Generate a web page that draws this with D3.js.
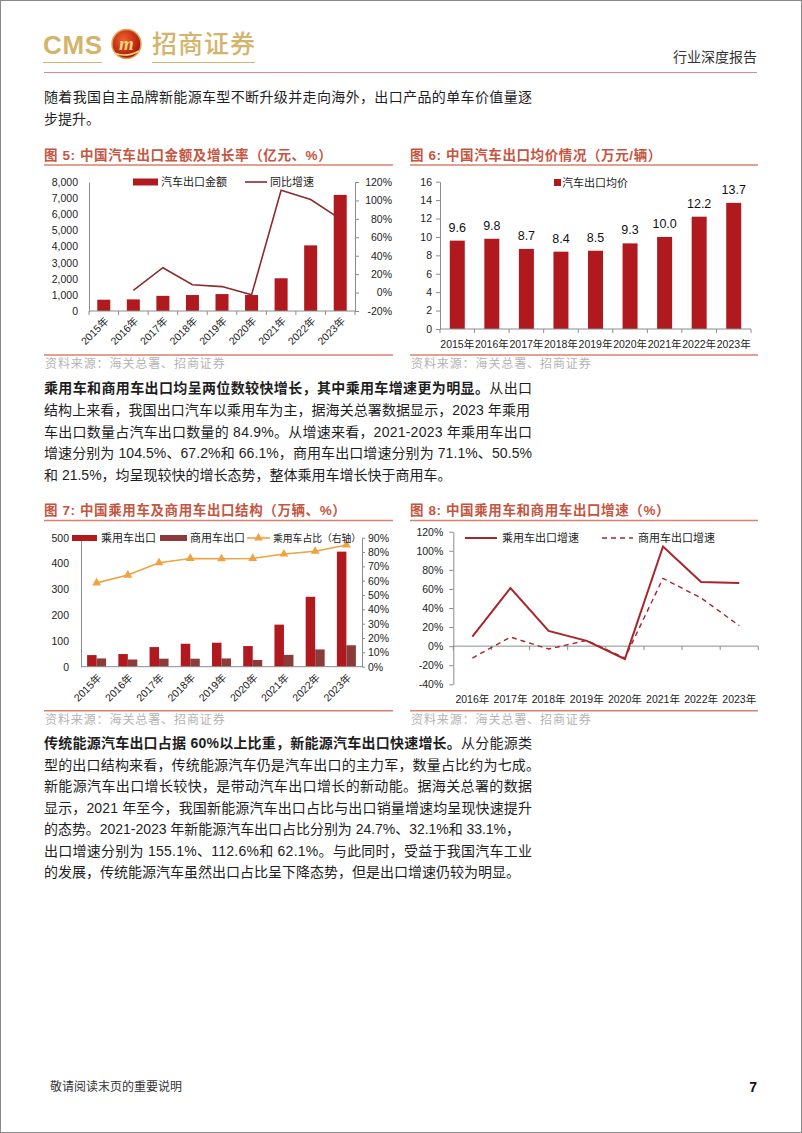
<!DOCTYPE html>
<html><head><meta charset="utf-8">
<script src="https://cdn.jsdelivr.net/npm/d3@7"></script>
<style>
html,body{margin:0;padding:0;background:#fff;}
svg{display:block;}
</style></head><body>
<svg id="page" width="802" height="1133"></svg>
<script>
// ---------------- data ----------------
const years = ["2015年","2016年","2017年","2018年","2019年","2020年","2021年","2022年","2023年"];
// Fig 5
const exportAmount = [700, 720, 940, 990, 1050, 990, 2030, 4070, 7200];
const exportGrowth = [null, 2.5, 27, 8.5, 6.5, -2.5, 111, 101, 80];
const amountTicks = [0,1000,2000,3000,4000,5000,6000,7000,8000];
const growthTicks = [-20,0,20,40,60,80,100,120];
// Fig 6
const avgPrice = [9.6, 9.8, 8.7, 8.4, 8.5, 9.3, 10.0, 12.2, 13.7];
const priceTicks = [0,2,4,6,8,10,12,14,16];
// Fig 7
const passengerExport = [45, 49, 76, 89, 93, 80, 163, 271, 446];
const commercialExport = [32, 28, 31, 31, 32, 26, 46, 67, 83];
const passengerShare = [58.5, 63.9, 72.5, 75.5, 75.3, 75.5, 78.6, 80.5, 84.9];
const volumeTicks = [0,100,200,300,400,500];
const shareTicks = [0,10,20,30,40,50,60,70,80,90];
// Fig 8
const growthYears = ["2016年","2017年","2018年","2019年","2020年","2021年","2022年","2023年"];
const passengerGrowth = [10, 61, 16, 5.5, -13.5, 104.5, 67.2, 66.1];
const commercialGrowth = [-12.5, 9.5, -3, 6, -12.5, 71.1, 50.5, 21.5];
const rateTicks = [-40,-20,0,20,40,60,80,100,120];

// ---------------- style ----------------
const RED = "#b0191e", BROWN = "#8c3b3b", LINE5 = "#8b2c2c", ORANGE = "#efa23f", LINE8 = "#a8262b";
const TITLE = "#c6553f", RULE = "#d9806e", GOLD = "#d4b46c";
const FONT = "'Liberation Sans','Noto Sans CJK SC',sans-serif";
const CJK = "'Noto Sans CJK SC',sans-serif";

const svg = d3.select("#page");
svg.append("rect").attr("x",0.5).attr("y",0.5).attr("width",801).attr("height",1132)
  .attr("fill","#fff").attr("stroke","#8a8a8a");

// ---------------- header ----------------
const hd = svg.append("g");
hd.append("text").attr("x",43).attr("y",53.5).attr("font-family","'Liberation Sans',sans-serif")
  .attr("font-weight",700).attr("font-size",26).attr("fill",GOLD).attr("textLength",59).text("CMS");
const grad = svg.append("defs").append("radialGradient").attr("id","lg").attr("cx","40%").attr("cy","35%").attr("r","65%");
grad.append("stop").attr("offset","0%").attr("stop-color","#f0602a");
grad.append("stop").attr("offset","100%").attr("stop-color","#a8140f");
hd.append("circle").attr("cx",126.5).attr("cy",44).attr("r",14.5).attr("fill","url(#lg)").attr("stroke","#d9a850").attr("stroke-width",1.5);
hd.append("text").attr("x",126.5).attr("y",50).attr("text-anchor","middle").attr("font-family","'Liberation Serif',serif")
  .attr("font-style","italic").attr("font-weight",700).attr("font-size",19).attr("fill","#f6d77a").text("m");
hd.append("path").attr("d","M114,53 Q126,58 139,51").attr("fill","none").attr("stroke","#f6d77a").attr("stroke-width",1.5);
hd.append("text").attr("x",152).attr("y",53).attr("font-family",CJK).attr("font-weight",500)
  .attr("font-size",25).attr("fill",GOLD).attr("textLength",103).text("招商证券");
hd.append("line").attr("x1",43).attr("x2",102).attr("y1",62.5).attr("y2",62.5).attr("stroke",GOLD);
hd.append("line").attr("x1",152).attr("x2",255).attr("y1",62.5).attr("y2",62.5).attr("stroke",GOLD);
hd.append("text").attr("x",757).attr("y",61.5).attr("text-anchor","end").attr("font-family",CJK)
  .attr("font-size",14).attr("fill","#333").text("行业深度报告");
hd.append("line").attr("x1",44).attr("x2",757).attr("y1",72.5).attr("y2",72.5).attr("stroke","#d98b8b");

// ---------------- paragraphs ----------------
function para(lines) {
  lines.forEach(l => {
    const t = svg.append("text").attr("x",44).attr("y",l.y + 5).attr("font-family",FONT)
      .attr("font-size",14).attr("fill","#1e1e1e");
    if (l.end) t.attr("textLength", l.end - 44).attr("lengthAdjust","spacing");
    if (l.bold) t.append("tspan").attr("font-weight",700).text(l.bold);
    if (l.text) t.append("tspan").text(l.text);
  });
}
para([
  {y:97, end:532, text:"随着我国自主品牌新能源车型不断升级并走向海外，出口产品的单车价值量逐"},
  {y:118.5, text:"步提升。"}
]);
para([
  {y:388.3, end:532, bold:"乘用车和商用车出口均呈两位数较快增长，其中乘用车增速更为明显。", text:"从出口"},
  {y:410, end:530, text:"结构上来看，我国出口汽车以乘用车为主，据海关总署数据显示，2023 年乘用"},
  {y:431.7, end:532, text:"车出口数量占汽车出口数量的 84.9%。从增速来看，2021-2023 年乘用车出口"},
  {y:453.3, end:532, text:"增速分别为 104.5%、67.2%和 66.1%，商用车出口增速分别为 71.1%、50.5%"},
  {y:475, text:"和 21.5%，均呈现较快的增长态势，整体乘用车增长快于商用车。"}
]);
para([
  {y:743.3, end:532, bold:"传统能源汽车出口占据 60%以上比重，新能源汽车出口快速增长。", text:"从分能源类"},
  {y:764.5, end:540, text:"型的出口结构来看，传统能源汽车仍是汽车出口的主力军，数量占比约为七成。"},
  {y:786, end:532, text:"新能源汽车出口增长较快，是带动汽车出口增长的新动能。据海关总署的数据"},
  {y:807.7, end:532, text:"显示，2021 年至今，我国新能源汽车出口占比与出口销量增速均呈现快速提升"},
  {y:829.3, end:520, text:"的态势。2021-2023 年新能源汽车出口占比分别为 24.7%、32.1%和 33.1%，"},
  {y:851, end:532, text:"出口增速分别为 155.1%、112.6%和 62.1%。与此同时，受益于我国汽车工业"},
  {y:872, text:"的发展，传统能源汽车虽然出口占比呈下降态势，但是出口增速仍较为明显。"}
]);

// ---------------- helpers ----------------
function title(x, y, x2, txt) {
  svg.append("text").attr("x",x).attr("y",y).attr("font-family",FONT).attr("font-weight",700)
    .attr("font-size",13.5).attr("fill",TITLE).attr("letter-spacing",0.6).text(txt);
  svg.append("line").attr("x1",x).attr("x2",x2).attr("y1",y+5.5).attr("y2",y+5.5).attr("stroke",RULE).attr("stroke-width",1.6);
}
function source(x, lineY, x2) {
  svg.append("line").attr("x1",x).attr("x2",x2).attr("y1",lineY).attr("y2",lineY).attr("stroke",RULE).attr("stroke-width",1.6);
  svg.append("text").attr("x",x+1).attr("y",lineY+13).attr("font-family",CJK).attr("font-size",12)
    .attr("letter-spacing",0.9).attr("fill","#b4b4b4").text("资料来源：海关总署、招商证券");
}
function styleAxis(g) {
  g.selectAll(".domain").attr("stroke","#8c8c8c");
  g.selectAll(".tick line").attr("stroke","#8c8c8c");
  g.selectAll("text").attr("font-family",FONT).attr("font-size",10.5).attr("fill","#222");
}
function xBase(xs, y, left, right, tick) {
  svg.append("line").attr("x1",left).attr("x2",right).attr("y1",y).attr("y2",y).attr("stroke","#8c8c8c");
  const pos = xs.domain().map(d => xs(d)).concat([right]);
  svg.append("g").selectAll("line").data(pos).join("line")
    .attr("x1",d=>d).attr("x2",d=>d).attr("y1",y).attr("y2",y+tick).attr("stroke","#8c8c8c");
}
function rotLabels(xs, y) {
  svg.append("g").selectAll("text").data(xs.domain()).join("text")
    .attr("transform", d => `translate(${xs(d)+xs.bandwidth()/2+3},${y}) rotate(-45)`)
    .attr("text-anchor","end").attr("dy","0.35em").attr("font-family",FONT).attr("font-size",10.5)
    .attr("fill","#222").text(d=>d);
}

// ---------------- Fig 5 ----------------
title(44, 159.5, 393, "图 5:  中国汽车出口金额及增长率（亿元、%）");
{
  const L=89, R=355, T=182, B=311;
  const x = d3.scaleBand().domain(years).range([L,R]);
  const y = d3.scaleLinear().domain([0,8000]).range([B,T]);
  const y2 = d3.scaleLinear().domain([-20,120]).range([B,T]);
  const bw = x.bandwidth()*0.44;
  svg.append("g").selectAll("rect").data(exportAmount).join("rect")
    .attr("x",(d,i)=>x(years[i])+x.bandwidth()/2-bw/2).attr("width",bw)
    .attr("y",d=>y(d)).attr("height",d=>B-y(d)).attr("fill",RED);
  const ga = svg.append("g").attr("transform",`translate(${L},0)`)
    .call(d3.axisLeft(y).tickValues(amountTicks).tickFormat(d3.format(",")).tickSize(0).tickPadding(11));
  styleAxis(ga);
  const gb = svg.append("g").attr("transform",`translate(${R},0)`)
    .call(d3.axisRight(y2).tickValues(growthTicks).tickFormat(d=>d+"%").tickSize(4).tickSizeOuter(0));
  styleAxis(gb);
  gb.selectAll("text").attr("text-anchor","end").attr("x",37);
  xBase(x, B, L, R, 4);
  rotLabels(x, B+8);
  const line = d3.line().defined(d=>d!=null).x((d,i)=>x(years[i])+x.bandwidth()/2).y(d=>y2(d));
  svg.append("path").datum(exportGrowth).attr("d",line).attr("fill","none").attr("stroke",LINE5).attr("stroke-width",1.6);
  // legend
  svg.append("rect").attr("x",133).attr("y",178.5).attr("width",25).attr("height",7).attr("fill",RED);
  svg.append("text").attr("x",161).attr("y",182).attr("dy","0.36em").attr("font-family",CJK).attr("font-size",11).attr("fill","#222").text("汽车出口金额");
  svg.append("line").attr("x1",245).attr("x2",267).attr("y1",182).attr("y2",182).attr("stroke",LINE5).attr("stroke-width",1.6);
  svg.append("text").attr("x",270).attr("y",182).attr("dy","0.36em").attr("font-family",CJK).attr("font-size",11).attr("fill","#222").text("同比增速");
}
source(44, 355, 393);

// ---------------- Fig 6 ----------------
title(410, 159.5, 758, "图 6:  中国汽车出口均价情况（万元/辆）");
{
  const L=440, R=751, T=181.7, B=329;
  const x = d3.scaleBand().domain(years).range([L,R]);
  const y = d3.scaleLinear().domain([0,16]).range([B,T]);
  const bw = 15;
  svg.append("g").selectAll("rect").data(avgPrice).join("rect")
    .attr("x",(d,i)=>x(years[i])+x.bandwidth()/2-bw/2).attr("width",bw)
    .attr("y",d=>y(d)).attr("height",d=>B-y(d)).attr("fill",RED);
  svg.append("g").selectAll("text").data(avgPrice).join("text")
    .attr("x",(d,i)=>x(years[i])+x.bandwidth()/2).attr("y",d=>y(d)-9)
    .attr("text-anchor","middle").attr("font-family",FONT).attr("font-size",12.5).attr("fill","#111")
    .text(d=>d.toFixed(1));
  const ga = svg.append("g").attr("transform",`translate(${L},0)`)
    .call(d3.axisLeft(y).tickValues(priceTicks).tickSize(4).tickPadding(4).tickSizeOuter(0));
  styleAxis(ga);
  xBase(x, B, L, R, 4);
  svg.append("g").selectAll("text").data(years).join("text")
    .attr("x",d=>x(d)+x.bandwidth()/2).attr("y",B+19).attr("text-anchor","middle")
    .attr("font-family",FONT).attr("font-size",10.5).attr("fill","#222").text(d=>d);
  svg.append("rect").attr("x",554).attr("y",179).attr("width",7).attr("height",7).attr("fill",RED);
  svg.append("text").attr("x",562).attr("y",183).attr("dy","0.36em").attr("font-family",CJK).attr("font-size",11).attr("fill","#222").text("汽车出口均价");
}
source(410, 355, 758);

// ---------------- Fig 7 ----------------
title(44, 515, 393, "图 7:  中国乘用车及商用车出口结构（万辆、%）");
{
  const L=81, R=362, T=537.7, B=666.7;
  const x = d3.scaleBand().domain(years).range([L,R]);
  const y = d3.scaleLinear().domain([0,500]).range([B,T]);
  const y2 = d3.scaleLinear().domain([0,90]).range([B,T]);
  const bw = 9.5;
  svg.append("g").selectAll("rect").data(passengerExport).join("rect")
    .attr("x",(d,i)=>x(years[i])+x.bandwidth()/2-bw).attr("width",bw)
    .attr("y",d=>y(d)).attr("height",d=>B-y(d)).attr("fill",RED);
  svg.append("g").selectAll("rect").data(commercialExport).join("rect")
    .attr("x",(d,i)=>x(years[i])+x.bandwidth()/2).attr("width",bw)
    .attr("y",d=>y(d)).attr("height",d=>B-y(d)).attr("fill",BROWN);
  const ga = svg.append("g").attr("transform",`translate(${L},0)`)
    .call(d3.axisLeft(y).tickValues(volumeTicks).tickSize(0).tickPadding(12));
  styleAxis(ga);
  const gb = svg.append("g").attr("transform",`translate(${R},0)`)
    .call(d3.axisRight(y2).tickValues(shareTicks).tickFormat(d=>d+"%").tickSize(3).tickPadding(3).tickSizeOuter(0));
  styleAxis(gb);
  xBase(x, B, L, R, 0);
  rotLabels(x, B+9);
  const line = d3.line().x((d,i)=>x(years[i])+x.bandwidth()/2).y(d=>y2(d));
  svg.append("path").datum(passengerShare).attr("d",line).attr("fill","none").attr("stroke",ORANGE).attr("stroke-width",1.6);
  const tri = d3.symbol(d3.symbolTriangle).size(34);
  svg.append("g").selectAll("path").data(passengerShare).join("path")
    .attr("d",tri).attr("transform",(d,i)=>`translate(${x(years[i])+x.bandwidth()/2},${y2(d)})`).attr("fill",ORANGE);
  // legend
  svg.append("rect").attr("x",72).attr("y",535).attr("width",25).attr("height",6).attr("fill",RED);
  svg.append("text").attr("x",101).attr("y",538).attr("dy","0.36em").attr("font-family",CJK).attr("font-size",11).attr("fill","#222").text("乘用车出口");
  svg.append("rect").attr("x",160).attr("y",535).attr("width",27).attr("height",6).attr("fill",BROWN);
  svg.append("text").attr("x",190).attr("y",538).attr("dy","0.36em").attr("font-family",CJK).attr("font-size",11).attr("fill","#222").text("商用车出口");
  svg.append("line").attr("x1",247).attr("x2",270).attr("y1",538).attr("y2",538).attr("stroke",ORANGE).attr("stroke-width",1.6);
  svg.append("path").attr("d",tri).attr("transform","translate(258.5,538)").attr("fill",ORANGE);
  svg.append("text").attr("x",273).attr("y",538).attr("dy","0.36em").attr("font-family",CJK).attr("font-size",9.8)
    .attr("fill","#222").text("乘用车占比（右轴）");
}
source(44, 710.7, 393);

// ---------------- Fig 8 ----------------
title(410, 515, 758, "图 8:  中国乘用车和商用车出口增速（%）");
{
  const L=453.3, R=758.3, T=531.7, B=684.3;
  const x = d3.scaleBand().domain(growthYears).range([L,R]);
  const y = d3.scaleLinear().domain([-40,120]).range([B,T]);
  const ga = svg.append("g").attr("transform",`translate(${L},0)`)
    .call(d3.axisLeft(y).tickValues(rateTicks).tickFormat(d=>d+"%").tickSize(4).tickPadding(6).tickSizeOuter(0));
  styleAxis(ga);
  xBase(x, y(0), L, R, 4);
  svg.append("g").selectAll("text").data(growthYears).join("text")
    .attr("x",d=>x(d)+x.bandwidth()/2).attr("y",B+19).attr("text-anchor","middle")
    .attr("font-family",FONT).attr("font-size",10.5).attr("fill","#222").text(d=>d);
  const line = d3.line().x((d,i)=>x(growthYears[i])+x.bandwidth()/2).y(d=>y(d));
  svg.append("path").datum(commercialGrowth).attr("d",line).attr("fill","none").attr("stroke",LINE8)
    .attr("stroke-width",1.4).attr("stroke-dasharray","5,4");
  svg.append("path").datum(passengerGrowth).attr("d",line).attr("fill","none").attr("stroke",LINE8).attr("stroke-width",2);
  svg.append("line").attr("x1",465).attr("x2",497).attr("y1",538).attr("y2",538).attr("stroke",LINE8).attr("stroke-width",2);
  svg.append("text").attr("x",502).attr("y",538).attr("dy","0.36em").attr("font-family",CJK).attr("font-size",11).attr("fill","#222").text("乘用车出口增速");
  svg.append("line").attr("x1",602).attr("x2",633).attr("y1",538).attr("y2",538).attr("stroke",LINE8).attr("stroke-width",1.4).attr("stroke-dasharray","5,4");
  svg.append("text").attr("x",638).attr("y",538).attr("dy","0.36em").attr("font-family",CJK).attr("font-size",11).attr("fill","#222").text("商用车出口增速");
}
source(410, 710.7, 758);

// ---------------- footer ----------------
svg.append("text").attr("x",50).attr("y",1090.5).attr("font-family",CJK).attr("font-size",12).attr("fill","#333").text("敬请阅读末页的重要说明");
svg.append("text").attr("x",757).attr("y",1092).attr("text-anchor","end").attr("font-family",FONT).attr("font-weight",700).attr("font-size",14).attr("fill","#111").text("7");
</script>
</body></html>
